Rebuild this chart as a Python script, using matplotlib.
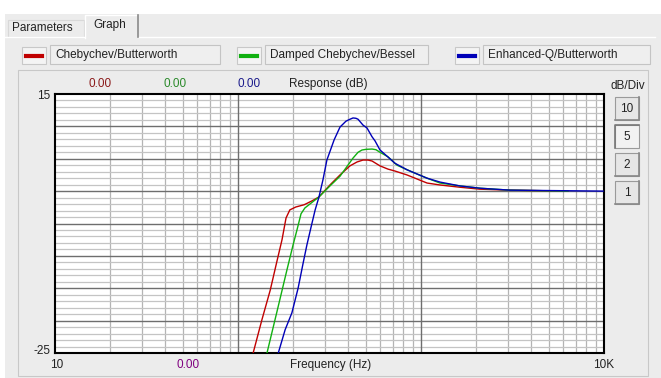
import matplotlib
matplotlib.use("Agg")
import matplotlib.pyplot as plt
from matplotlib.patches import Rectangle
from matplotlib.lines import Line2D
import numpy as np

W, H = 661, 378

# ---- data (Hz, dB) ----
red_f = [121, 135, 150, 163, 174, 183, 192, 207, 230, 254, 277, 318, 361, 409, 447, 482, 513, 540, 597, 660, 721, 838, 1079, 1270, 1634, 2100, 3063, 6355]
red_db = [-25, -19.9, -15.3, -10.9, -7.5, -4.15, -2.9, -2.45, -2.1, -1.5, -0.9, 0.95, 2.5, 3.9, 4.5, 4.8, 4.8, 4.65, 3.9, 3.4, 3.1, 2.5, 1.25, 0.95, 0.6, 0.3, 0.15, 0.0]

green_f = [144, 163, 185, 200, 210, 221, 232, 247, 277, 318, 361, 425, 453, 476, 500, 540, 567, 597, 660, 740, 871, 1079, 1270, 1634, 2100, 3063, 6355]
green_db = [-25, -18.7, -12.2, -8.3, -6.0, -3.5, -2.6, -2.0, -0.9, 0.8, 2.3, 5.1, 6.0, 6.35, 6.45, 6.5, 6.4, 6.0, 5.3, 4.0, 3.1, 2.0, 1.25, 0.8, 0.45, 0.15, 0.0]

blue_f = [166, 181, 197, 213, 227, 238, 251, 264, 277, 291, 306, 335, 361, 389, 409, 425, 441, 453, 482, 507, 540, 561, 597, 652, 721, 838, 1079, 1270, 1634, 2100, 3063, 9880]
blue_db = [-25, -21.4, -18.8, -15.0, -11.1, -8.3, -5.5, -2.9, -0.9, 1.7, 4.8, 7.9, 9.9, 10.8, 11.1, 11.3, 11.25, 11.1, 10.2, 9.75, 8.4, 7.75, 6.35, 5.4, 4.3, 3.3, 2.0, 1.4, 0.8, 0.45, 0.15, 0.0]

series_names = ["Chebychev/Butterworth", "Damped Chebychev/Bessel", "Enhanced-Q/Butterworth"]
series_colors = ["#c00000", "#10b010", "#0000b8"]
level_labels = ["0.00", "0.00", "0.00"]
level_colors = ["#8b1a1a", "#2a8a2a", "#1a1a8b"]
div_buttons = ["10", "5", "2", "1"]

FONT = "Liberation Sans"
plt.rcParams["font.family"] = [FONT, "DejaVu Sans"]

fig = plt.figure(figsize=(W / 100, H / 100), dpi=100)
fig.patch.set_facecolor("white")


def fx(x):
    return x / W


def fy(y):
    return 1 - y / H


def rect(x0, y0, x1, y1, fc="none", ec="none", lw=1.0, z=0):
    fig.add_artist(Rectangle((fx(x0), fy(y1)), fx(x1) - fx(x0), fy(y0) - fy(y1),
                             transform=fig.transFigure, facecolor=fc, edgecolor=ec,
                             linewidth=lw, zorder=z))


def line(xs, ys, c, lw=1.0, z=1):
    fig.add_artist(Line2D([fx(v) for v in xs], [fy(v) for v in ys], color=c,
                          linewidth=lw, transform=fig.transFigure, zorder=z))


def text(x, y, s, color="#222222", size=8.5, ha="left", va="center", z=5):
    fig.text(fx(x), fy(y), s, color=color, fontsize=size, ha=ha, va=va, zorder=z)


BG = "#ececec"
# main panel background
rect(5, 14, 661, 378, fc=BG, z=0)
# tabs
rect(8, 20, 84, 37, fc=BG, ec="#d8d8d8", lw=0.8, z=1)
rect(85, 14, 138, 38, fc=BG, z=2)
line([85, 85, 137], [38, 15, 15], "#ffffff", 1.0, z=3)
line([138, 138], [15, 37], "#8a8a8a", 1.2, z=3)
text(12, 28, "Parameters", size=8.5)
text(93, 25, "Graph", size=8.5)
# panel border
line([5, 85], [37, 37], "#ffffff", 1.0, z=1)
line([138, 655], [37, 37], "#ffffff", 1.0, z=1)

# legend row
swatches = [(22, 50, 220), (237, 265, 428), (455, 483, 650)]
for (sx, tx0, tx1), name, col in zip(swatches, series_names, series_colors):
    rect(sx, 47, sx + 24, 64, fc="#f4f4f4", ec="#c8c8c8", lw=0.8, z=1)
    line([sx + 4, sx + 20], [56, 56], col, 3.0, z=2)
    rect(tx0, 45, tx1, 64, fc="#efefef", ec="#c4c4c4", lw=0.8, z=1)
    text(tx0 + 5, 55, name, size=8.5)

# graph group box
rect(18, 70, 648, 376, fc=BG, ec="#c8c8c8", lw=0.8, z=1)

# ---- axes ----
L, R, T, B = 55, 604, 94, 353
ax = fig.add_axes([fx(L), fy(B), fx(R) - fx(L), fy(T) - fy(B)])
ax.set_zorder(3)
ax.set_facecolor("white")
ax.set_xscale("log")
ax.set_xlim(10, 10000)
ax.set_ylim(-25, 15)

for dec in [10, 100, 1000]:
    for m in range(2, 10):
        ax.axvline(dec * m, color="#b4b4b4", lw=0.9, zorder=1)
for f in [100, 1000]:
    ax.axvline(f, color="#6e6e6e", lw=1.0, zorder=1.5)
for d in range(-24, 15):
    if d % 5 == 0:
        ax.axhline(d, color="#6e6e6e", lw=1.0, zorder=1.5)
    else:
        ax.axhline(d, color="#c4c4c4", lw=0.9, zorder=1)

for fs, ds, col in zip([red_f, green_f, blue_f], [red_db, green_db, blue_db], series_colors):
    ax.plot(fs, ds, color=col, lw=1.0, zorder=3)

ax.set_xticks([])
ax.set_yticks([])
ax.minorticks_off()
for s in ax.spines.values():
    s.set_color("black")
    s.set_linewidth(1.5)

# axis texts
text(50, 96, "15", ha="right", size=8.5)
text(50, 351, "-25", ha="right", size=8.5)
text(57, 365, "10", ha="center", size=8.5)
text(604, 365, "10K", ha="center", size=8.5)
text(188, 365, "0.00", color="#800080", ha="center", size=8.5)
text(331, 365, "Frequency (Hz)", ha="center", size=8.5)
for xc, lab, col in zip([100, 175, 249], level_labels, level_colors):
    text(xc, 84, lab, color=col, ha="center", size=8.5)
text(328, 84, "Response (dB)", ha="center", size=8.5)
text(628, 86, "dB/Div", ha="center", size=8.5)

# dB/Div buttons
for i, lab in enumerate(div_buttons):
    y0 = 97 + i * 28
    pressed = lab == "5"
    rect(615, y0, 639, y0 + 23, fc="#f2f2f2" if pressed else "#e6e6e6",
         ec="#9a9a9a", lw=0.8, z=2)
    if pressed:
        line([615, 615, 639], [y0 + 23, y0, y0], "#777777", 1.2, z=3)
    else:
        line([615, 639, 639], [y0 + 23, y0 + 23, y0], "#888888", 1.2, z=3)
    text(627, y0 + 12, lab, ha="center", size=8.5)

fig.savefig("out.png", dpi=100, facecolor=fig.get_facecolor())
